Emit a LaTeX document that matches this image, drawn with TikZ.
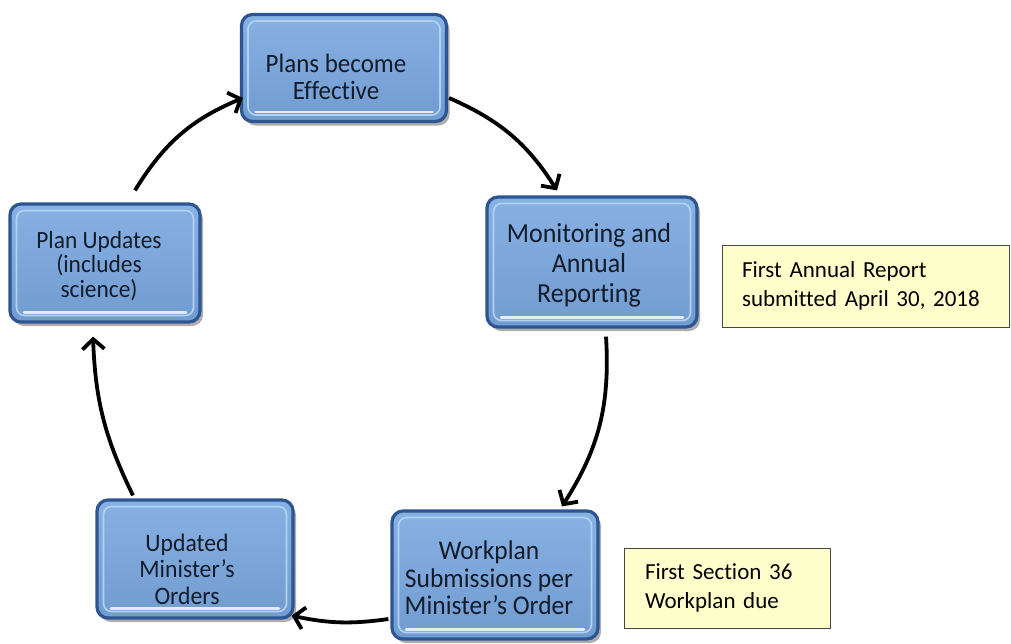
\documentclass[tikz,border=0pt]{standalone}
\usepackage{fontspec}
\setmainfont{Carlito}[Ligatures=NoCommon]
\usetikzlibrary{arrows.meta,shadows}
\definecolor{boxblue}{RGB}{122,168,224}
\definecolor{boxdark}{RGB}{45,85,145}
\definecolor{boxlight}{RGB}{178,210,244}
\definecolor{boxtext}{RGB}{18,28,42}
\definecolor{notefill}{RGB}{255,255,204}
\definecolor{noteline}{RGB}{70,70,70}
\newcommand{\boxtxt}[3]{\scalebox{1}[1.06]{\parbox{230pt}{\centering\fontsize{#1}{#2}\selectfont #3}}}
\tikzset{
  cyclebox/.style={rounded corners=11pt, draw=boxdark, line width=3.2pt,
    top color=boxblue!90!white, bottom color=boxblue!93!black,
    inner sep=0pt,
    drop shadow={shadow xshift=3pt, shadow yshift=-4pt, opacity=0.45, fill=black!70},
    path picture={
      \draw[boxlight, line width=1.6pt, rounded corners=8pt]
        ([shift={(6.5pt,-6.5pt)}]path picture bounding box.north west) rectangle
        ([shift={(-6.5pt,6.5pt)}]path picture bounding box.south east);
      \draw[white, line width=2.5pt, line cap=round, opacity=0.8]
        ([shift={(14pt,9.5pt)}]path picture bounding box.south west) --
        ([shift={(-14pt,9.5pt)}]path picture bounding box.south east);
    }},
  boxlabel/.style={text=boxtext, inner sep=0pt},
  notebox/.style={draw=noteline, line width=1pt, fill=notefill, align=left,
    text=black, inner sep=0pt, font=\fontsize{23}{29}\selectfont},
  cyclearrow/.style={draw=black, line width=3.8pt,
    -{Straight Barb[length=10pt,width=22pt]}}
}
\begin{document}
\begin{tikzpicture}[x=1pt,y=-1pt]
\useasboundingbox (0,0) rectangle (1011,643);
% cycle boxes
\node[cyclebox, minimum width=205pt, minimum height=107pt,
  label={[boxlabel, xshift=-8pt, yshift=-9pt]center:{\boxtxt{25}{26}{Plans become\\Effective}}}] (top) at (344,68) {};
\node[cyclebox, minimum width=210pt, minimum height=130pt,
  label={[boxlabel, xshift=-3pt, yshift=-3pt]center:{\boxtxt{26}{28.3}{Monitoring and\\Annual\\Reporting}}}] (mon) at (592,262) {};
\node[cyclebox, minimum width=206pt, minimum height=128pt,
  label={[boxlabel, xshift=-6pt, yshift=-3pt]center:{\boxtxt{25.5}{26}{Workplan\\Submissions per\\Minister’s Order}}}] (wp) at (495,575) {};
\node[cyclebox, minimum width=196pt, minimum height=118pt,
  label={[boxlabel, xshift=-8pt, yshift=-10pt]center:{\boxtxt{23.7}{25}{Updated\\Minister’s\\Orders}}}] (upd) at (195,559) {};
\node[cyclebox, minimum width=190pt, minimum height=118pt,
  label={[boxlabel, xshift=-6pt, yshift=-3pt]center:{\boxtxt{23.4}{23.4}{Plan Updates\\(includes\\science)}}}] (pu) at (105,263) {};
% notes
\node[notebox, minimum width=287pt, minimum height=82pt, text width=247pt] (n1) at (865.5,286) {First Annual Report\\submitted April 30, 2018};
\node[notebox, minimum width=206pt, minimum height=80pt, text width=164pt] (n2) at (727,588) {First Section 36\\Workplan due};
% arrows
\draw[cyclearrow] ([xshift=30pt,yshift=12pt]pu.north) to[bend left=18] ([xshift=3pt,yshift=-30pt]top.west);
\draw[cyclearrow] ([xshift=1pt,yshift=-30pt]top.east) to[bend left=17] ([xshift=-35pt,yshift=5pt]mon.north);
\draw[cyclearrow] ([xshift=14pt,yshift=-8pt]mon.south) to[bend left=18] ([xshift=67pt,yshift=3pt]wp.north);
\draw[cyclearrow] ([xshift=-2pt,yshift=-44pt]wp.west) to[bend left=10] ([xshift=-3pt,yshift=4pt]upd.south east);
\draw[cyclearrow] ([xshift=-62pt,yshift=3pt]upd.north) to[bend left=12] ([xshift=-12pt,yshift=-13pt]pu.south);
\end{tikzpicture}
\end{document}
